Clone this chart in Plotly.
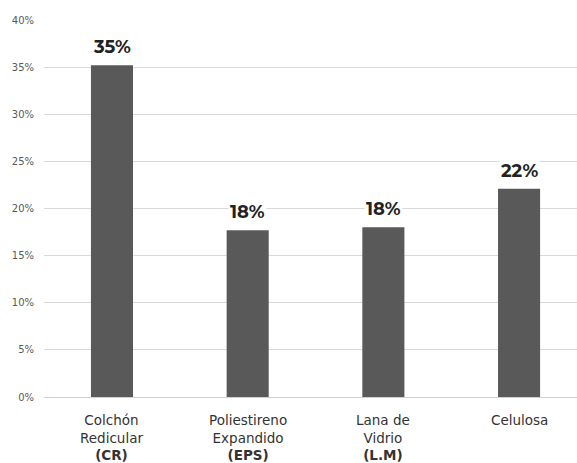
import plotly.graph_objects as go

categories = ["Colchón Redicular (CR)", "Poliestireno Expandido (EPS)", "Lana de Vidrio (L.M)", "Celulosa"]
cat_labels = ["Colchón<br>Redicular<br><b>(CR)</b>",
              "Poliestireno<br>Expandido<br><b>(EPS)</b>",
              "Lana de<br>Vidrio<br><b>(L.M)</b>",
              "Celulosa"]
values = [0.352, 0.177, 0.180, 0.221]
value_labels = ["35%", "18%", "18%", "22%"]
tick_vals = [0, 0.05, 0.10, 0.15, 0.20, 0.25, 0.30, 0.35, 0.40]
tick_text = ["0%", "5%", "10%", "15%", "20%", "25%", "30%", "35%", "40%"]

xpos = list(range(len(categories)))

fig = go.Figure()
fig.add_trace(go.Bar(x=xpos, y=values, width=0.31, marker=dict(color="#595959", line=dict(width=0)),
                     hoverinfo="skip"))

font_main = "Montserrat, 'Open Sans', sans-serif"
for xi, v, lab in zip(xpos, values, value_labels):
    fig.add_annotation(x=xi, y=v, xref="x", yref="y", text="<b>" + lab + "</b>", showarrow=False,
                       yanchor="bottom", yshift=5, bgcolor="white", borderpad=1,
                       font=dict(family=font_main, size=18, color="#222222"))

for xi, lab in zip(xpos, cat_labels):
    fig.add_annotation(x=xi, y=0, xref="x", yref="paper", text=lab, showarrow=False,
                       yanchor="top", yshift=-13, align="center",
                       font=dict(family="DejaVu Sans, sans-serif", size=13.5, color="#333333"))

fig.update_layout(
    width=577, height=463,
    margin=dict(l=44, r=0, t=20, b=66),
    plot_bgcolor="white", paper_bgcolor="white",
    showlegend=False,
    xaxis=dict(range=[-0.501, 3.427], showticklabels=False, showgrid=False, zeroline=False,
               showline=False, ticks=""),
    yaxis=dict(range=[0, 0.40], tickvals=tick_vals, ticktext=tick_text, showgrid=True,
               gridcolor="#d9d9d9", gridwidth=1, zeroline=True, zerolinecolor="#d0d0d0",
               zerolinewidth=1, showline=False, ticks="", ticklabelstandoff=9,
               tickfont=dict(family="DejaVu Sans, Verdana, sans-serif", size=10, color="#595959")),
)

fig.write_html("out.html")
